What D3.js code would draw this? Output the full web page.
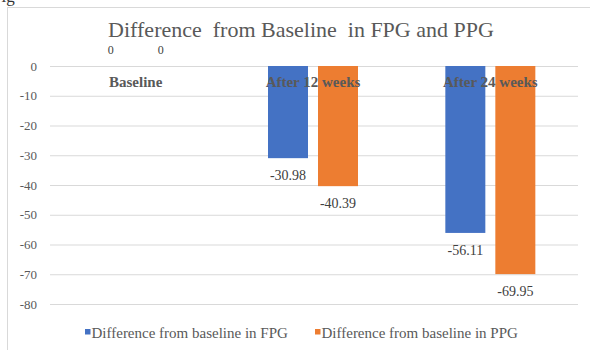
<!DOCTYPE html>
<html>
<head>
<meta charset="utf-8">
<script src="https://cdn.jsdelivr.net/npm/d3@7"></script>
<style>
  html, body { margin: 0; padding: 0; background: #fff; }
  svg { display: block; }
  text { font-family: "Liberation Serif", "Times New Roman", serif; }
</style>
</head>
<body>
<script>
// Chart data
const categories = ["Baseline", "After 12 weeks", "After 24 weeks"];
const seriesNames = ["Difference from baseline in FPG", "Difference from baseline in PPG"];
const fpgValues = [0, -30.98, -56.11];
const ppgValues = [0, -40.39, -69.95];
const yTicks = [0, -10, -20, -30, -40, -50, -60, -70, -80];
const seriesColors = ["#4472C4", "#ED7D31"];

const W = 590, H = 350;
const svg = d3.select("body").append("svg").attr("width", W).attr("height", H);

// Caption fragment above the chart frame
svg.append("text").attr("x", -8).attr("y", 2).attr("font-size", 17).attr("fill", "#333").text("Fig");

// Chart frame
svg.append("rect").attr("x", 7.5).attr("y", 7.5).attr("width", W).attr("height", H)
  .attr("fill", "#fff").attr("stroke", "#d9d9d9");

// Title
svg.append("text").attr("x", 301).attr("y", 37).attr("text-anchor", "middle")
  .attr("font-size", 22).attr("fill", "#595959").attr("xml:space", "preserve")
  .text("Difference  from Baseline  in FPG and PPG");

const x = d3.scaleBand().domain(categories).range([47, 579]);
const y = d3.scaleLinear().domain([-80, 0]).range([304, 66]);
const inner = d3.scaleBand().domain([0, 1]).range([-45, 45]).paddingInner(0.2);

// Plain hyphen for negative numbers
const fmt = v => String(v);

// Gridlines + y axis labels
const yAxis = d3.axisLeft(y).tickValues(yTicks).tickSize(-(579 - 50)).tickPadding(13)
  .tickFormat(d => fmt(d));
const gy = svg.append("g").attr("transform", "translate(50,0)").call(yAxis);
gy.select(".domain").remove();
gy.selectAll(".tick line").attr("stroke", "#d9d9d9").attr("x1", 0).attr("x2", 528);
gy.selectAll(".tick text").attr("fill", "#595959")
  .style("font-size", "13px").style("font-family", "'Liberation Serif', serif");

// Bars
const rows = categories.map((c, i) => ({ cat: c, vals: [fpgValues[i], ppgValues[i]] }));
const groups = svg.append("g").selectAll("g").data(rows).join("g")
  .attr("transform", d => `translate(${x(d.cat) + x.bandwidth() / 2},0)`);

groups.selectAll("rect").data(d => d.vals.map((v, s) => ({ v, s }))).join("rect")
  .attr("x", d => inner(d.s))
  .attr("width", inner.bandwidth())
  .attr("y", d => y(Math.max(0, d.v)))
  .attr("height", d => Math.abs(y(d.v) - y(0)))
  .attr("fill", d => seriesColors[d.s]);

// Value labels (zero values sit above the axis in a smaller size)
groups.selectAll("text.val").data(d => d.vals.map((v, s) => ({ v, s }))).join("text")
  .attr("class", "val")
  .attr("x", d => inner(d.s) + inner.bandwidth() / 2)
  .attr("y", d => d.v === 0 ? y(0) - 12 : y(d.v) + 22)
  .attr("text-anchor", "middle")
  .attr("font-size", d => d.v === 0 ? 12 : 14)
  .attr("fill", "#404040")
  .text(d => d.v === 0 ? "0" : d.v.toFixed(2));

// Category labels drawn across the top of the plot
svg.append("g").selectAll("text").data(categories).join("text")
  .attr("x", d => x(d) + x.bandwidth() / 2).attr("y", 87)
  .attr("text-anchor", "middle").attr("font-size", 15).attr("font-weight", "bold")
  .attr("fill", "#595959").text(d => d);

// Legend
const legendX = [85, 315];
const lg = svg.append("g").selectAll("g").data(seriesNames).join("g")
  .attr("transform", (d, i) => `translate(${legendX[i]},334)`);
lg.append("rect").attr("x", 0).attr("y", -5).attr("width", 5.5).attr("height", 5.5)
  .attr("fill", (d, i) => seriesColors[i]);
lg.append("text").attr("x", 6.5).attr("y", 4).attr("font-size", 15).attr("fill", "#595959")
  .text(d => d);
</script>
</body>
</html>
